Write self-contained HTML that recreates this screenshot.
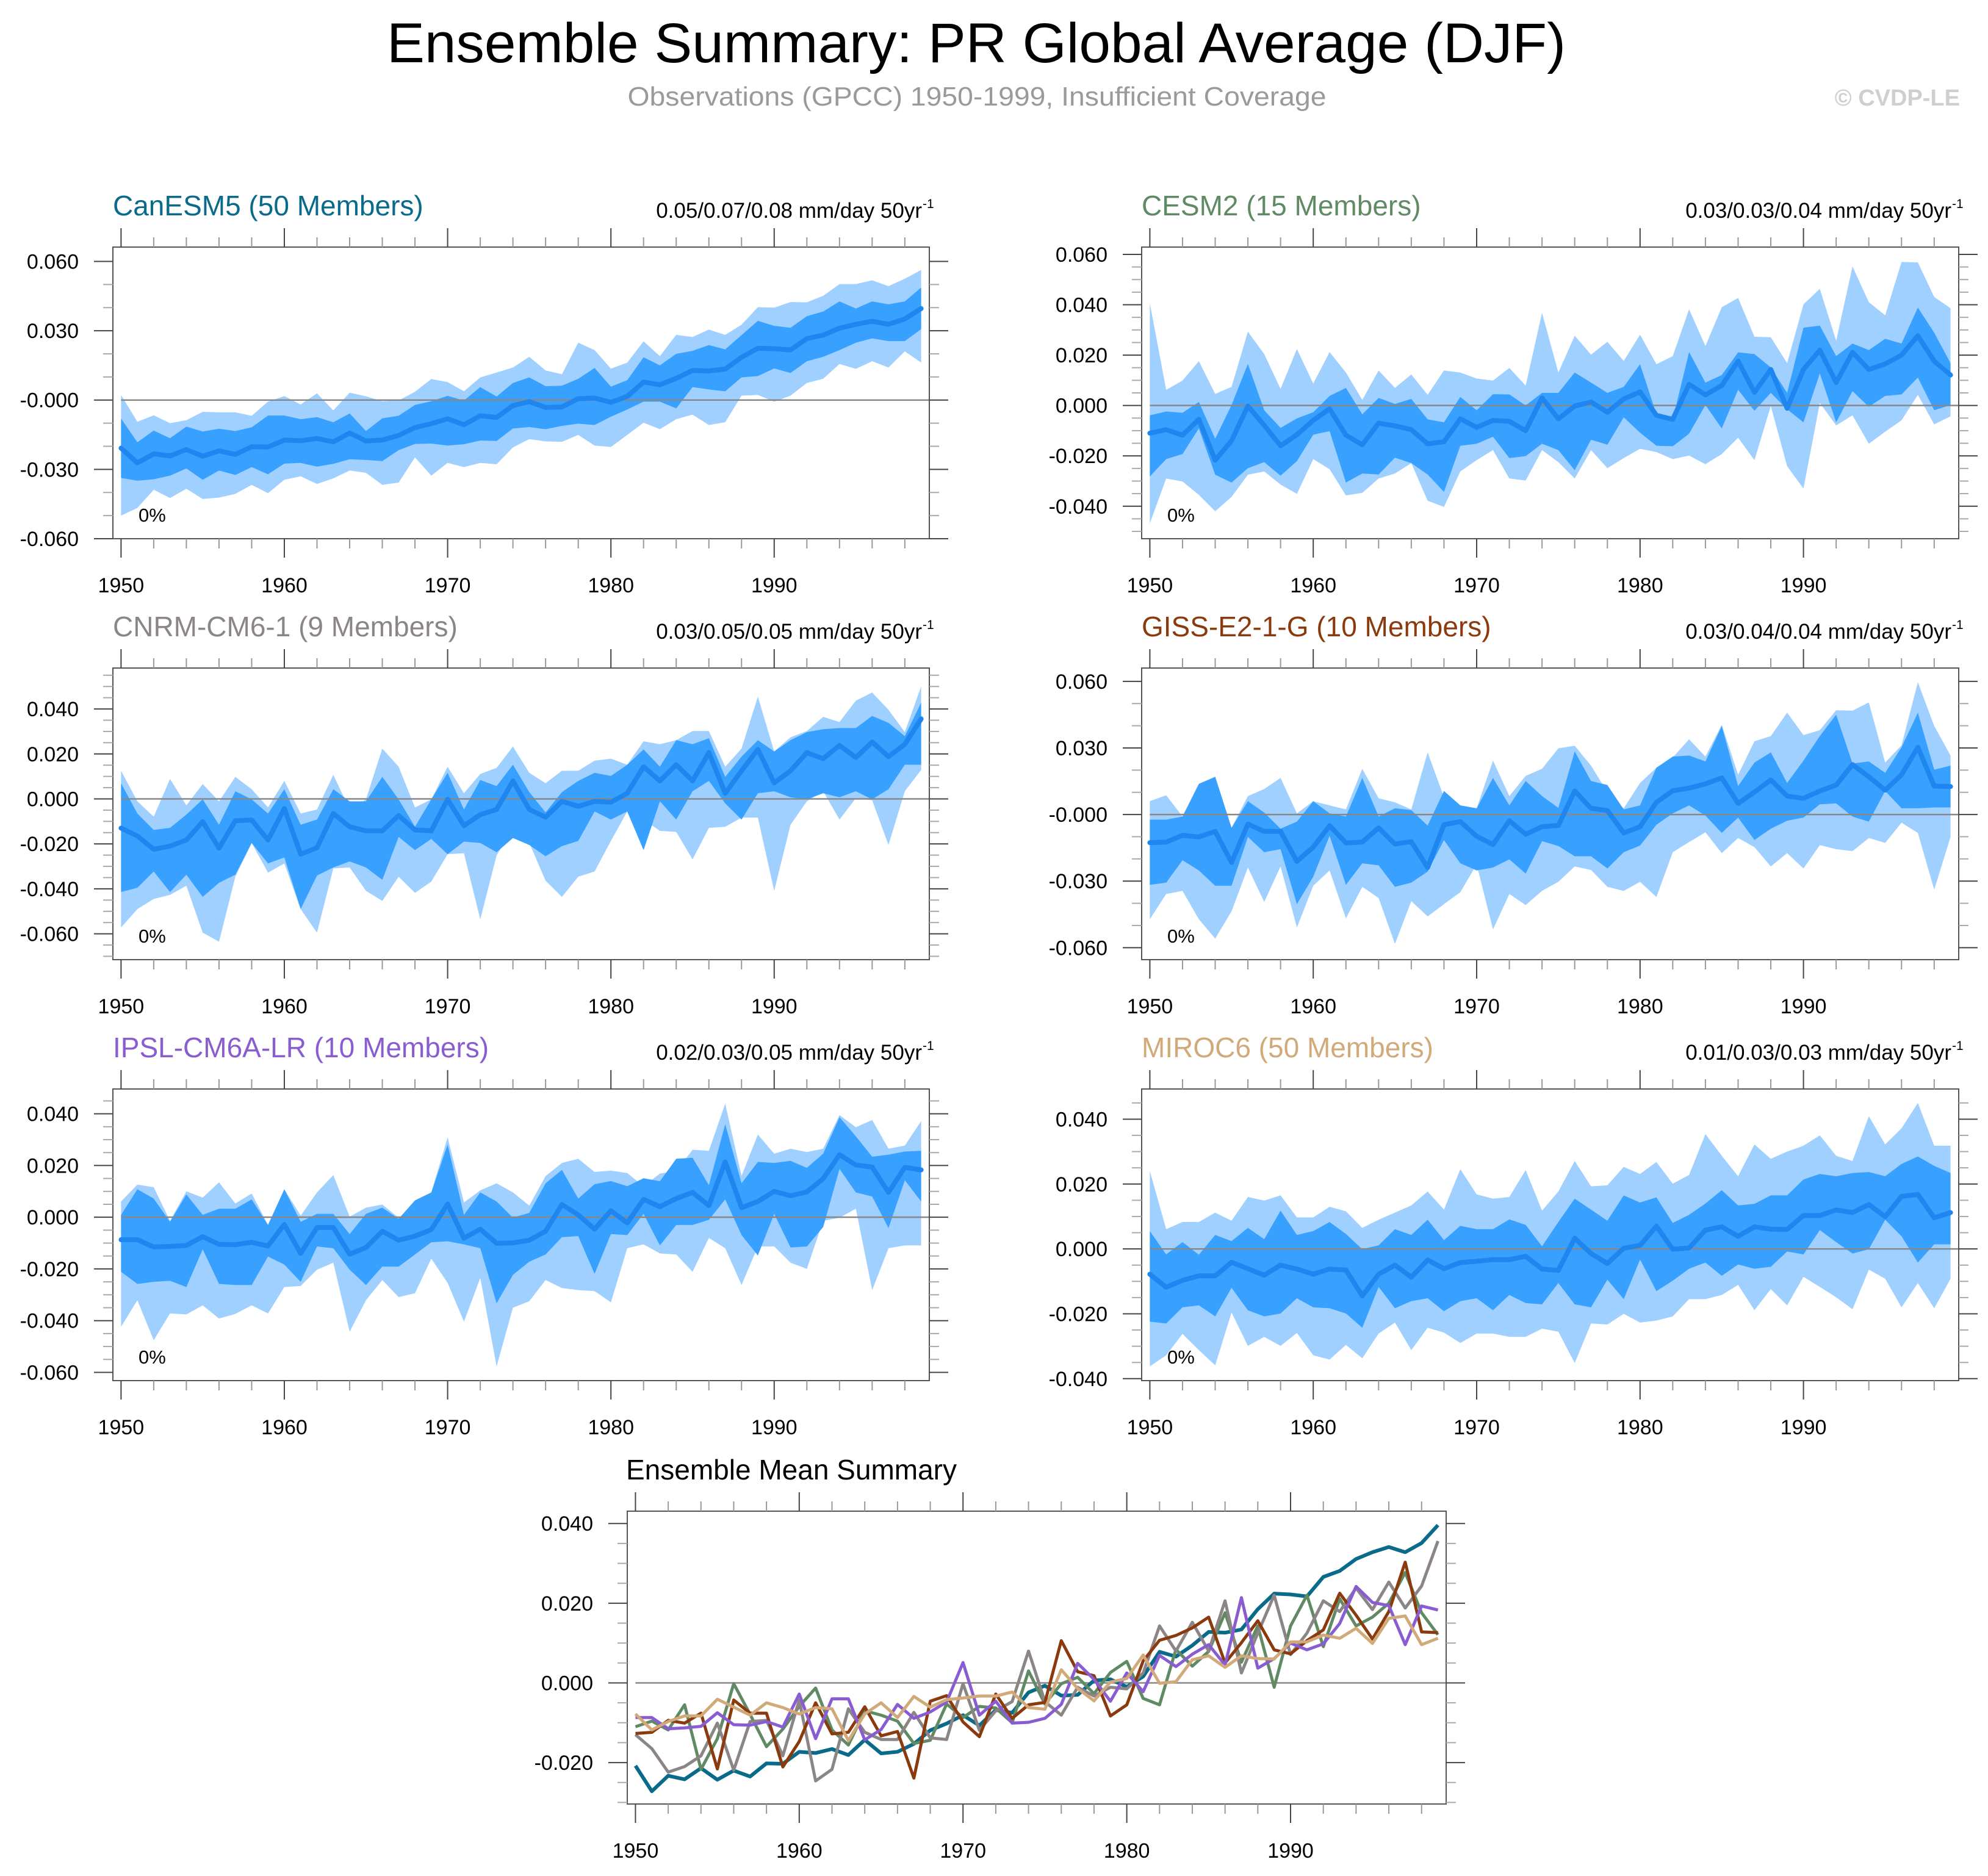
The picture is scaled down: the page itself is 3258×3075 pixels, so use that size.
<!DOCTYPE html>
<html><head><meta charset="utf-8"><title>Ensemble Summary: PR Global Average (DJF)</title>
<style>
html,body{margin:0;padding:0;background:#fff;}
svg{display:block;font-family:"Liberation Sans",Arial,sans-serif;}
</style></head>
<body>
<svg id="chart" width="3258" height="3075" viewBox="0 0 3258 3075" xmlns="http://www.w3.org/2000/svg">
<text x="1600" y="102" font-size="92" text-anchor="middle" textLength="1932" lengthAdjust="spacingAndGlyphs" fill="#000">Ensemble Summary: PR Global Average (DJF)</text>
<text x="1601" y="173" font-size="44" text-anchor="middle" textLength="1145" lengthAdjust="spacingAndGlyphs" fill="#9a9a9a">Observations (GPCC) 1950-1999, Insufficient Coverage</text>
<text x="3212" y="173" font-size="38" font-weight="bold" text-anchor="end" fill="#cfcfcf">© CVDP-LE</text>
</svg>
<script>
// Values in units of 0.001 mm/day
const years = [1950,1951,1952,1953,1954,1955,1956,1957,1958,1959,1960,1961,1962,1963,1964,1965,1966,1967,1968,1969,1970,1971,1972,1973,1974,1975,1976,1977,1978,1979,1980,1981,1982,1983,1984,1985,1986,1987,1988,1989,1990,1991,1992,1993,1994,1995,1996,1997,1998,1999];
const xTickLabels = ["1950","1960","1970","1980","1990"];

const canMean = [-20.8,-27.2,-23.3,-24.2,-21.4,-24.3,-22,-23.5,-20.2,-20.3,-17.3,-17.6,-16.6,-18.1,-14.3,-17.7,-17.3,-15.3,-11.9,-10.2,-8.1,-10.7,-6.8,-7.5,-2.4,-0.7,-3.2,-3.0,0.6,0.9,-1.0,1.6,7.8,6.6,9.4,12.8,12.6,13.4,18.5,22.4,22.2,21.7,26.6,28.1,31.1,32.8,34.1,32.8,35.1,39.6];
const canInHi = [-8,-18.3,-13.2,-16.5,-11.5,-13.6,-12.4,-13.4,-11.8,-6.7,-6.7,-8.3,-7.4,-9.6,-5.8,-13.4,-7.9,-6.8,-2.1,-0.5,1.8,-0.2,5.6,1.5,7.4,9.8,6,6.2,9.2,13.9,5.8,8.6,18.5,15,20,21.3,23.8,21.9,28.1,34.3,32.1,31.3,36.3,38.3,42.7,39.6,42.7,41.4,42.7,48.7];
const canInLo = [-33.7,-34.9,-34.3,-32.7,-29.6,-34.5,-30.5,-32.4,-29,-32.1,-27.5,-27.2,-28.8,-27.6,-25.6,-25.9,-26.4,-21.7,-19,-18.8,-19.7,-19.1,-17.5,-17.7,-12.3,-11.7,-12.6,-11.2,-10.2,-10.8,-7.2,-4.1,-0.7,-0.7,-3.6,5.6,4.6,3.8,9.8,10.4,13.7,11.7,16.8,18.7,21.6,24.8,26.7,25.5,25.5,30.7];
const canOutHi = [2.2,-9.4,-6.6,-10,-8.7,-5.1,-5.3,-5.3,-6.8,-0.7,1.7,-1.9,2.9,-4.5,3.2,1.6,-0.5,-0.2,3.6,9.1,7.8,3.8,9.8,11.9,14.1,18.7,12.8,11.2,24.8,21.6,13.6,16.2,25.4,19,28.2,27.3,30.5,28.2,32.6,40.2,40,42.4,42.3,45.1,50.2,50.2,51.8,49.3,52.5,56.3];
const canOutLo = [-50,-46.7,-38.8,-42.4,-38.4,-42.8,-42.2,-40.6,-36.7,-40.3,-34.5,-33,-36.3,-33.9,-30.5,-31.5,-36.7,-35.7,-24.8,-32.7,-27.2,-29,-27.2,-27.8,-20.5,-16.9,-17.9,-18.1,-15.1,-19.7,-20.3,-15.1,-9.8,-12.6,-8.3,-6.3,-10.8,-9.6,1.9,2.2,-0.7,1.9,7.4,9.2,15.6,13.5,16.8,14.1,21.1,16.2];

const cesMean = [-11,-9.6,-11.8,-5.5,-21.7,-14,-0.2,-7.9,-16,-11.6,-5.9,-1.3,-11.8,-15.6,-7,-8.1,-9.6,-15.2,-14.4,-5.3,-8.7,-5.9,-6.3,-10,3,-5.3,-0.2,1.4,-2.7,2.6,5.4,-3.9,-5.5,8.4,4.2,7.9,17.6,5.2,14.3,-1.1,14.3,22,9.1,21.1,14.3,16.5,20,27.7,17.6,12.1];
const cesInHi = [-3.9,-2.4,-2.9,1.4,-13.2,0.2,16.5,-1.9,-8.9,-5.1,-2.7,3.8,7,-3.5,3,0.6,2.6,-5.5,-6.7,3.4,-1.9,4.5,4.4,0,5,5,13.1,9.1,5,7.4,16.4,-3.5,-5.5,21.2,9.1,12.1,21.1,20.4,15.1,5,30.9,31.7,19.6,24.6,22,26.5,24.6,38.9,28.9,16.8];
const cesInLo = [-28.2,-21.3,-19.3,-9.1,-27.5,-30.6,-24.9,-22.5,-27.9,-22.1,-11.6,-10.2,-30.6,-27,-27.4,-20.7,-22.9,-27.4,-34.3,-16,-15.2,-12.4,-20.9,-20.1,-15.2,-17.7,-25.7,-13.6,-15.6,-4.7,-10.8,-16,-16.2,-11.2,0.2,-9.1,6.2,-2.1,5,-1.5,-6.7,12.7,-6.7,5.7,-0.5,3.8,4.4,11.1,-1.9,0.2];
const cesOutHi = [40.6,6.2,9.9,17.6,4.6,7.4,29.3,20.4,6.6,22.4,8.7,21.2,13.1,2.2,13.9,7,12.3,4.2,13.9,13.1,10.7,9.9,14.9,7.9,36.8,13.1,27.7,20.2,25.3,17.7,28.1,16.4,19.6,38.2,23.6,39,42.7,27.3,27.1,16.8,40.2,46.3,25.7,55.2,41,35.8,57,56.8,43.1,38.6];
const cesOutLo = [-46.8,-29,-30.2,-35.5,-42,-36.3,-27.5,-26.2,-31.4,-35.1,-21.3,-25.3,-35.7,-34.7,-29,-27,-22.9,-37.8,-40.3,-26.2,-21.7,-17.7,-29,-29.8,-17.7,-22.5,-29,-17.7,-24.9,-20.9,-17.2,-18.5,-21.3,-19.9,-23.3,-19.3,-12.8,-21.7,-0.2,-24.1,-33,1,-7.9,-3.9,-15.2,-10.4,-5.9,4.2,-7.5,-4.3];

const cnrMean = [-13,-16.5,-22.4,-21,-18.3,-10.1,-21.9,-9.7,-9.4,-18.3,-4.3,-24.6,-21.7,-6.5,-12.4,-14.2,-14.2,-7.4,-13.8,-14.2,-0.2,-11.9,-7,-4.7,8,-4.7,-8.1,-1.1,-3.3,-1.1,-1.5,2.5,14.3,8,15.2,8,20.6,2.5,12.5,22,7.1,12.5,20.6,17.9,23.8,18.4,25.3,18.8,24.3,35.6];
const cnrInHi = [7,-6.5,-13.8,-12.9,-7,-0.2,-11.5,3.4,-0.2,-6.5,4.3,-11.5,-9.2,4.3,-1.1,-1.1,9.8,-0.2,-12.4,-0.2,11.6,-4.7,8.4,5.7,15.2,3,-6,3,8,11.6,10.2,15.2,22,14.3,26.1,24.3,27,9.8,18.8,26.1,21.1,26.1,29.7,31,31.5,31.5,36.9,33.8,27.9,42.8];
const cnrInLo = [-41.4,-39.5,-32.3,-41.4,-33.7,-43.6,-37.3,-33.7,-19.6,-28.7,-26,-49,-34.1,-30.5,-27.8,-30.5,-36,-16.9,-22.8,-17.8,-24.6,-19,-19.6,-23.7,-17.4,-20.5,-25.5,-21,-18.7,-5.6,-9.2,-5.6,-22.8,-1.1,-9.2,3.4,8,-2,-9.2,2.5,3.4,0.7,-0.2,2.5,0.7,3.4,-0.2,4.3,15.2,15.2];
const cnrOutHi = [12.5,-1.1,-7.9,8.9,-2.9,6.6,-1.1,9.8,4.3,-3.8,8,-6.5,-4.7,10.7,-4.7,-0.2,22.4,14.3,-3.8,-0.2,14.3,2.5,11.1,13.8,23.3,11.6,7,12.5,12.5,17,17.9,15.2,25.6,24.3,26.1,30.2,30.2,14.3,22.4,45.5,21.1,27.4,30.2,36.5,34.2,43.7,47.3,39.6,29.7,50];
const cnrOutLo = [-57.2,-49.0,-44.5,-42.7,-38.6,-59.5,-63.5,-34.6,-19.6,-32.8,-28.7,-49.0,-59.5,-30.9,-30.5,-40.9,-45.4,-34.6,-41.8,-36.8,-24.6,-24.2,-53.6,-25.1,-13.3,-19.6,-36.4,-43.6,-34.6,-32.3,-18.7,-5.6,-9.2,-14.2,-14.7,-26.9,-12.9,-12.4,-8.3,-8.3,-40.9,-11.5,-1.1,3.4,-9.2,0.3,-0.6,-20.5,3.4,12.9];

const gisMean = [-12.7,-12.4,-9.4,-10.1,-7.6,-21.6,-4.3,-7.6,-7.6,-21.1,-14.7,-5,-12.8,-12.4,-6,-13.3,-12.2,-23.9,-4.6,-3.2,-9.8,-13.5,-2.8,-8.9,-5.5,-4.9,10.6,2.8,1.8,-8.3,-5.5,5.5,10.7,11.9,13.8,16.5,5,10.1,15.6,8.3,7.3,10.6,13.3,22.5,17,11,17.9,30.3,12.8,12.6];
const gisInHi = [-2.3,-2.3,-0.9,13.8,17,-6,6,0.9,-6.4,-3.2,6,0.5,-0.9,16.5,-0.9,2.8,2,-5,10.6,4.1,2.8,16.5,4.1,15.1,8.3,3,28.4,15.1,13.3,2.3,4.1,21.1,26.1,26.6,23.9,39.9,12.8,23.4,28,14.2,24.3,35.3,45,23,23.9,18.8,30.3,45.9,20.2,22];
const gisInLo = [-31.7,-30.7,-20.6,-25.2,-32.1,-32.1,-10.1,-17,-15.6,-40.4,-28,-9.6,-31.7,-22,-22.9,-32.6,-30.7,-25.7,-11.5,-22,-25.2,-23.9,-20.2,-26.6,-12,-14.2,-18.8,-18.8,-24.3,-17,-14,-4.6,0.5,4.1,-0.5,-8.3,-1.4,-11.5,-6.4,-2.8,-1.4,4.6,5,-0.9,-3.2,10.6,2.8,2.8,3.2,3.2];
const gisOutHi = [6,8.7,-0.9,13.8,17,-6,8.3,11.5,16.5,0.5,6,4.1,2.3,20.6,7.3,5.5,2.3,28,7.8,3.7,2.8,24.3,8.3,17.4,20.6,29.8,31,22,10.1,2.8,14.2,21.1,25.7,33.9,26.1,40.4,17.9,33,35.3,45.9,35.8,38,47,46.8,50.5,23.4,31.2,59.6,39.9,26.6];
const gisOutLo = [-47.2,-35.8,-34.4,-47.2,-55.9,-43.6,-23.9,-39.4,-23.4,-50.9,-32.1,-25.2,-46.8,-32.6,-37.6,-58.3,-39,-45.9,-40.4,-35,-22.5,-51.8,-35.8,-40.8,-34.4,-30.3,-23.4,-25,-32.6,-34.4,-30.3,-37.2,-17,-12.4,-8,-17.4,-10.6,-14.7,-23.4,-17.4,-24.3,-13.8,-15.6,-16.5,-10.6,-12.8,-3.7,-8.3,-33.9,-10.1];

const ipsMean = [-8.7,-8.7,-11.5,-11.3,-10.9,-7.5,-10.5,-10.6,-9.7,-11.1,-2.8,-14,-4,-4,-14.3,-11.7,-5.4,-8.9,-7.3,-4.8,5.1,-8.1,-4.6,-10.1,-9.9,-8.9,-5.4,4.9,0.9,-4.6,2.5,-2.2,6.9,4.1,7.2,9.6,4.5,21.4,3.7,6.1,10,8.3,9.8,14.9,24.2,20.2,19.4,9.6,19.3,18.3];
const ipsInHi = [0.9,10.8,7.2,-1.8,8.8,0.9,3.3,3.3,6.9,-3,10.8,-1.8,1.3,1.3,-6.5,1.3,3.7,-0.6,6.5,9.6,28.1,0.9,9.6,6.1,-0.2,1.7,13.1,18.3,7.2,12.8,14,12,15.1,13.9,22.6,23,12.4,36,13.1,21.4,21,21.8,19.1,24.6,38.7,31.3,23.4,24.2,25.4,25.7];
const ipsInLo = [-21.1,-25.8,-25,-24.6,-27,-12.4,-25.8,-26.2,-26.2,-15.2,-18.3,-25,-11.3,-12,-20.3,-26.2,-19.1,-19.1,-14.4,-9.7,-9.3,-10.5,-12,-33.3,-22.3,-17.2,-14.4,-7.7,-7.3,-21.9,-6.5,-6.9,1.3,-10.9,-3,-3,-1,6.9,-6.9,-14.8,1.3,-11.7,-11.3,-3.8,18.7,9.6,8,-4.2,14.3,6.1];
const ipsOutHi = [6.1,12.6,11.6,-1.4,10,7.6,13.5,5.3,9.2,-3,10.8,0.6,9.6,16.3,0.2,3.7,4.9,-0.2,0.6,9.6,30.9,5.7,10.4,13.1,9.6,4.5,15.9,21,22.6,17.5,18,17.1,12,16.9,17.9,26.1,25.7,43.9,16,32,24.6,26.5,25.2,26.5,39.5,34.8,37.6,26.5,27.7,37.2];
const ipsOutLo = [-42.4,-32.1,-47.6,-37.2,-37.6,-34.1,-39.2,-37.4,-34.1,-37.2,-27,-26.6,-20.3,-17.6,-44.3,-32.1,-24.3,-30.9,-29.4,-16,-25.4,-40.4,-23.5,-57.7,-35,-32.5,-24.3,-27.4,-28.2,-28.6,-32.9,-12,-10.5,-14,-14.4,-21.1,-8,-12,-26.2,-11.3,-11.3,-17.6,-20,-1.4,-0.2,3.3,-28.2,-12,-10.9,-10.9];

const mirMean = [-7.8,-11.8,-9.7,-8.3,-8.3,-4.1,-6.1,-8.1,-5,-6.2,-7.8,-6.2,-6.5,-14.5,-7.8,-5,-8.7,-3.4,-6.1,-4.2,-3.8,-3.3,-3.3,-2.3,-6.2,-6.6,3.3,-1.4,-4.5,0.2,1.1,7,-0.1,0.3,5.8,6.8,3.9,6.8,6.1,6,10.3,10.3,12,11.2,13.7,9.9,16.2,16.8,9.6,11.2];
const mirInHi = [5.5,-1.7,2.1,-1.8,4.3,2.4,6.5,3,11.8,4.3,5.5,8.3,4.6,-0.1,1.1,6.1,4.3,9,2.7,7.1,6.1,6.1,9.1,7.4,0.8,8.3,15.5,12.1,8.7,16.5,14.3,15.9,8,10.5,14,18.1,13.4,13.9,16.5,16.5,21.4,23.1,22.4,23.4,23.7,22.4,26.2,28.5,25.6,23.4];
const mirInLo = [-22.4,-23,-18,-17.4,-20.8,-12,-18.9,-20.8,-19.9,-15.2,-18,-18.3,-19.9,-24.3,-11.7,-18.3,-16.1,-15.2,-19.2,-16.1,-15.2,-18.9,-14.2,-16.7,-17.1,-10.5,-17.1,-18,-9.5,-15.5,-3.3,-13,-9.8,-6.1,-4.2,-8.3,-4.8,-6.1,-5.5,-0.8,-1.7,5.8,2.1,-1.4,-0.1,9,3.9,-4.2,1.4,1.4];
const mirOutHi = [24,6.1,8.3,8.3,11.2,8.7,16,14.9,16.5,9.7,9.7,13,11.6,6.5,9,11.2,13.4,17.7,12.1,24.6,16.8,15.5,16,24.3,11.8,17.7,27.1,19.3,19.6,25.3,23.1,26.8,20.1,22.8,35.4,28.7,22.4,32.2,27.8,30,31.8,35,28.7,27.1,40.9,32.2,37.2,45,31.8,31.8];
const mirOutLo = [-36.2,-32.8,-26.2,-31.2,-35.9,-19.6,-29.9,-27.1,-29.9,-25.9,-32.8,-34.1,-29.6,-33.7,-26.1,-22.7,-31.2,-24.3,-25.8,-29,-26.1,-26.1,-27.1,-27.1,-24.6,-25.5,-35.2,-23,-23.3,-20,-22.7,-22.1,-20.8,-15.5,-15.5,-14.2,-11.1,-18.9,-12.4,-17.4,-8.6,-11.7,-14.9,-18.6,-6.4,-9.2,-18,-10.5,-18.3,-9.2];

const panelTitles = ["CanESM5 (50 Members)","CESM2 (15 Members)","CNRM-CM6-1 (9 Members)","GISS-E2-1-G (10 Members)","IPSL-CM6A-LR (10 Members)","MIROC6 (50 Members)"];
const trendLabels = ["0.05/0.07/0.08 mm/day 50yr","0.03/0.03/0.04 mm/day 50yr","0.03/0.05/0.05 mm/day 50yr","0.03/0.04/0.04 mm/day 50yr","0.02/0.03/0.05 mm/day 50yr","0.01/0.03/0.03 mm/day 50yr"];
const pctLabels = ["0%","0%","0%","0%","0%","0%"];
const tickLabelsP1 = ["-0.060","-0.030","-0.000","0.030","0.060"];
const tickLabelsP2 = ["-0.040","-0.020","0.000","0.020","0.040","0.060"];
const tickLabelsP3 = ["-0.060","-0.040","-0.020","0.000","0.020","0.040"];
const tickLabelsP4 = ["-0.060","-0.030","-0.000","0.030","0.060"];
const tickLabelsP5 = ["-0.060","-0.040","-0.020","0.000","0.020","0.040"];
const tickLabelsP6 = ["-0.040","-0.020","0.000","0.020","0.040"];
const tickLabelsMean = ["-0.020","0.000","0.020","0.040"];

const NS = "http://www.w3.org/2000/svg";
const svg = document.getElementById("chart");
function mk(tag, attrs, parent){ const e=document.createElementNS(NS,tag); for(const k in attrs) e.setAttribute(k,attrs[k]); (parent||svg).appendChild(e); return e; }
function tickValuesFrom(labels){ return labels.map(s=>Math.round(parseFloat(s)*1000)); }

const colors = ["#0a6a8a","#5f8a63","#8c8585","#8b3a0e","#8a5cd2","#d2aa7a"];
const cfg = [
 {t:0, c:colors[0], box:[185,405,1523,883],  ymin:-60,ymax:66.2, tv:tickValuesFrom(tickLabelsP1), tl:tickLabelsP1, minor:10, m:canMean, ih:canInHi, il:canInLo, oh:canOutHi, ol:canOutLo},
 {t:1, c:colors[1], box:[1871,405,3210,883], ymin:-52.9,ymax:62.9, tv:tickValuesFrom(tickLabelsP2), tl:tickLabelsP2, minor:5, m:cesMean, ih:cesInHi, il:cesInLo, oh:cesOutHi, ol:cesOutLo},
 {t:2, c:colors[2], box:[185,1095,1523,1573], ymin:-71.5,ymax:58.2, tv:tickValuesFrom(tickLabelsP3), tl:tickLabelsP3, minor:5, m:cnrMean, ih:cnrInHi, il:cnrInLo, oh:cnrOutHi, ol:cnrOutLo},
 {t:3, c:colors[3], box:[1871,1095,3210,1573], ymin:-65.4,ymax:66, tv:tickValuesFrom(tickLabelsP4), tl:tickLabelsP4, minor:10, m:gisMean, ih:gisInHi, il:gisInLo, oh:gisOutHi, ol:gisOutLo},
 {t:4, c:colors[4], box:[185,1785,1523,2263], ymin:-63.2,ymax:49.6, tv:tickValuesFrom(tickLabelsP5), tl:tickLabelsP5, minor:5, m:ipsMean, ih:ipsInHi, il:ipsInLo, oh:ipsOutHi, ol:ipsOutLo},
 {t:5, c:colors[5], box:[1871,1785,3210,2263], ymin:-40.6,ymax:49.3, tv:tickValuesFrom(tickLabelsP6), tl:tickLabelsP6, minor:5, m:mirMean, ih:mirInHi, il:mirInLo, oh:mirOutHi, ol:mirOutLo}
];

function xScale(box){ const w=box[2]-box[0]; return y=> box[0] + (y-1949.5)/50*w; }
function yScaleF(box,ymin,ymax){ const h=box[3]-box[1]; return v=> box[3] - (v-ymin)/(ymax-ymin)*h; }

function drawAxes(g, box, ymin, ymax, tv, tl, minor, X, Y, labelSize){
  for(let yr=1950; yr<=1999; yr+=2){
    const major = (yr%10===0);
    const L = major?31:16;
    const x = X(yr);
    const t1 = mk("line",{x1:x,y1:box[1],x2:x,y2:box[1]-L,stroke:major?"#444":"#999","stroke-width":2},g);
    
    
    const t2 = mk("line",{x1:x,y1:box[3],x2:x,y2:box[3]+L,stroke:major?"#444":"#999","stroke-width":2},g);
    
    
  }
  xTickLabels.forEach(s=>{
    const tx = mk("text",{x:X(parseInt(s)),y:box[3]+88,"font-size":labelSize,"text-anchor":"middle",fill:"#000"},g);
    tx.textContent = s;
    
    
  });
  const start = Math.ceil(ymin/minor)*minor;
  for(let v=start; v<=ymax; v+=minor){
    const isMajor = tv.indexOf(Math.round(v))>=0;
    const L = isMajor?31:16;
    const y = Y(v);
    const a = mk("line",{x1:box[0],y1:y,x2:box[0]-L,y2:y,stroke:isMajor?"#444":"#aaa","stroke-width":2},g);
    
    
    const b = mk("line",{x1:box[2],y1:y,x2:box[2]+L,y2:y,stroke:isMajor?"#444":"#aaa","stroke-width":2},g);
    
    
  }
  tv.forEach((v,i)=>{
    const t = mk("text",{x:box[0]-56,y:Y(v)+12,"font-size":labelSize,"text-anchor":"end",fill:"#000"},g);
    t.textContent = tl[i];
    
    
  });
}

cfg.forEach((p)=>{
  const g = mk("g",{});
  
  
  const box=p.box, X=xScale(box), Y=yScaleF(box,p.ymin,p.ymax);
  const n = Math.min(years.length, p.m.length);
  function band(hi,lo){ let pts=[]; for(let i=0;i<n;i++) pts.push(X(years[i])+","+Y(hi[i])); for(let i=n-1;i>=0;i--) pts.push(X(years[i])+","+Y(lo[i])); return pts.join(" "); }
  const ob = mk("polygon",{points:band(p.oh,p.ol),fill:"#a0d0ff"},g);
  
  
  const ib = mk("polygon",{points:band(p.ih,p.il),fill:"#38a0ff"},g);
  
  
  const z = mk("line",{x1:X(1950),y1:Y(0),x2:box[2],y2:Y(0),stroke:"#888","stroke-width":2.5},g);
  
  
  let pts=[]; for(let i=0;i<n;i++) pts.push(X(years[i])+","+Y(p.m[i]));
  const ml = mk("polyline",{points:pts.join(" "),fill:"none",stroke:"#1e86ee","stroke-width":8,"stroke-linejoin":"round","stroke-linecap":"round"},g);
  
  
  const fr = mk("rect",{x:box[0],y:box[1],width:box[2]-box[0],height:box[3]-box[1],fill:"none",stroke:"#555","stroke-width":2},g);
  
  
  drawAxes(g, box, p.ymin, p.ymax, p.tv, p.tl, p.minor, X, Y, 34);
  const tt = mk("text",{x:box[0],y:box[1]-52,"font-size":46,fill:p.c},g);
  tt.textContent = panelTitles[p.t];
  
  
  const tr = mk("text",{x:box[2]-12,y:box[1]-48,"font-size":35,"text-anchor":"end",fill:"#000"},g);
  tr.textContent = trendLabels[p.t];
  
  
  const sup = mk("text",{x:box[2]-11,y:box[1]-64,"font-size":21,"text-anchor":"start",fill:"#000"},g);
  sup.textContent = "-1";
  
  
  const pc = mk("text",{x:box[0]+42,y:box[3]-28,"font-size":31,fill:"#000"},g);
  pc.textContent = pctLabels[p.t];
  
  
});

const meanSeries = [canMean, cesMean, cnrMean, gisMean, ipsMean, mirMean];
(function(){
  const g = mk("g",{});
  
  
  const box=[1028,2477,2370,2957];
  const X=xScale(box), Y=yScaleF(box,-30.4,43.1);
  const z = mk("line",{x1:X(1950),y1:Y(0),x2:box[2],y2:Y(0),stroke:"#888","stroke-width":2.5},g);
  
  
  meanSeries.forEach((s,k)=>{
    let pts=[]; for(let i=0;i<Math.min(years.length,s.length);i++) pts.push(X(years[i])+","+Y(s[i]));
    const pl = mk("polyline",{points:pts.join(" "),fill:"none",stroke:colors[k],"stroke-width":k===0?6:5,"stroke-linejoin":"round"},g);
    
    
  });
  const fr = mk("rect",{x:box[0],y:box[1],width:box[2]-box[0],height:box[3]-box[1],fill:"none",stroke:"#555","stroke-width":2},g);
  
  
  drawAxes(g, box, -30.4, 43.1, tickValuesFrom(tickLabelsMean), tickLabelsMean, 5, X, Y, 34);
  const tt = mk("text",{x:box[0]-2,y:box[1]-52,"font-size":46,fill:"#000"},g);
  tt.textContent = "Ensemble Mean Summary";
  
  
})();
</script>
</body></html>
